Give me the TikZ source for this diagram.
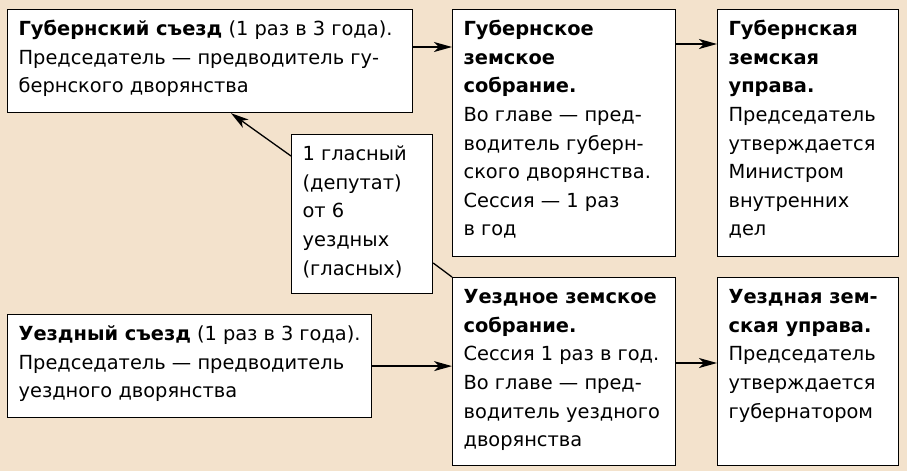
\documentclass[tikz,border=0pt]{standalone}
\usepackage{fontspec}
\setmainfont{DejaVu Sans}
\usetikzlibrary{positioning}
\usetikzlibrary{arrows.meta}
\definecolor{zemfon}{RGB}{243,226,204}
\newcommand{\zemtext}[3]{\parbox[c][#2][t]{#1}{\raggedright\fontsize{19.4}{28.6}\selectfont\strut #3}}

\begin{document}
\begin{tikzpicture}[x=1pt, y=-1pt, line width=1.3pt,
   >={Stealth[length=18pt,width=10pt,inset=5pt]},
   zembox/.style={draw, line width=1.2pt, fill=white, anchor=north west, inner xsep=11pt, inner ysep=6pt}]
   \fill[zemfon] (0,0) rectangle (907,471);
   \useasboundingbox (0,0) rectangle (907,471);
   % guberniya level
   \node[zembox] (gubsezd) at (7,9) {\zemtext{383pt}{91pt}{\textbf{Губернский съезд} (1 раз в 3 года).\\Председатель — предводитель гу-\\бернского дворянства}};
   \node[zembox] (gubsobr) at (452,9) {\zemtext{201pt}{235pt}{\textbf{Губернское}\\\textbf{земское}\\\textbf{собрание.}\\Во главе — пред-\\водитель губерн-\\ского дворянства.\\Сессия — 1 раз\\в год}};
   \node[zembox] (gubuprava) at (717,9) {\zemtext{159pt}{235pt}{\textbf{Губернская}\\\textbf{земская}\\\textbf{управа.}\\Председатель\\утверждается\\Министром\\внутренних\\дел}};
   % deputies
   \node[zembox] (glasny) at (291,134) {\zemtext{119pt}{147pt}{1 гласный\\(депутат)\\от 6\\уездных\\(гласных)}};
   % uezd level
   \node[zembox] (uezsezd) at (7,314) {\zemtext{342pt}{91pt}{\textbf{Уездный съезд} (1 раз в 3 года).\\Председатель — предводитель\\уездного дворянства}};
   \node[zembox] (uezsobr) at (452,277) {\zemtext{201pt}{176pt}{\textbf{Уездное земское}\\\textbf{собрание.}\\Сессия 1 раз в год.\\Во главе — пред-\\водитель уездного\\дворянства}};
   \node[zembox] (uezuprava) at (717,277) {\zemtext{159pt}{176pt}{\textbf{Уездная зем-}\\\textbf{ская управа.}\\Председатель\\утверждается\\губернатором}};

   \draw[->] (gubsezd.east |- 0,47) -- (gubsobr.west |- 0,47);
   \draw[->] (gubsobr.east |- 0,44) -- (gubuprava.west |- 0,44);
   \draw[->] (uezsezd.east) -- (uezsezd.east -| uezsobr.west);
   \draw[->] (uezsobr.east |- 0,363) -- (uezuprava.west |- 0,363);
   \draw[->] (glasny.west |- 0,156) -- (gubsezd.south -| 231,0);
   \draw (glasny.east |- 0,263) -- (uezsobr.north west);
\end{tikzpicture}
\end{document}
